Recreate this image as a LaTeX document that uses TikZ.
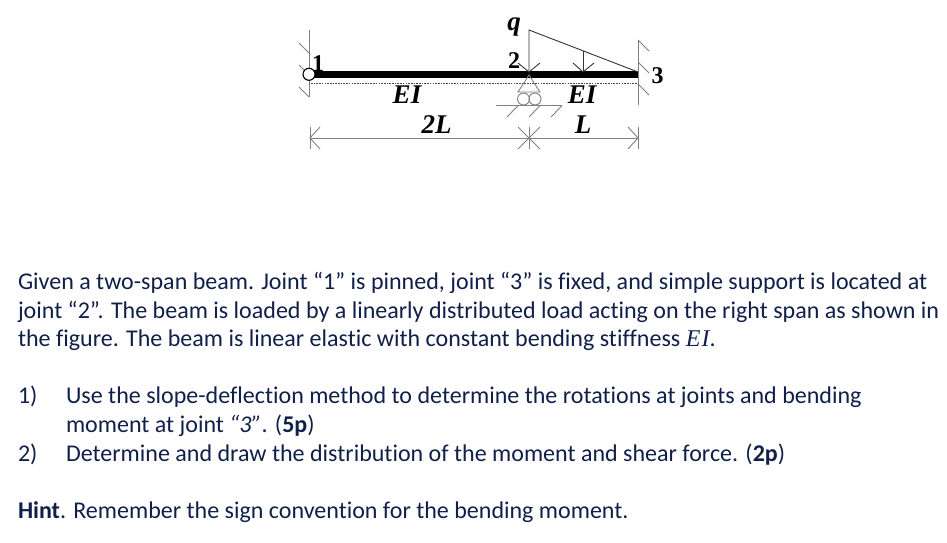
\documentclass[tikz,border=0pt]{standalone}
\usepackage{fontspec}
\setmainfont[Ligatures=NoCommon]{Carlito}
\newfontfamily\serifb{Liberation Serif}
\definecolor{ink}{HTML}{10204A}
\tikzset{
 x=1pt,y=-1pt,
 txt/.style={anchor=base west,inner sep=0pt,outer sep=0pt,text=ink,font=\fontsize{24.02}{28}\selectfont},
 lbl/.style={inner sep=0pt,font=\fontsize{27}{28}\selectfont\serifb\bfseries\itshape,text=black},
 num/.style={inner sep=0pt,font=\fontsize{24}{24}\selectfont\serifb\bfseries},
 gr/.style={draw=black!50,line width=0.9pt},
 thin1/.style={draw=black!80,line width=0.9pt},
 beam/.style={draw=black,line width=6.4pt},
 roller/.style={draw=black!50,circle,line width=0.9pt,minimum size=12pt,inner sep=0pt},
}
\begin{document}
\begin{tikzpicture}
\useasboundingbox (0,0) rectangle (947,543);
% coordinates
\coordinate (j1) at (309,74.3);
\coordinate (j3) at (639,74.3);
\coordinate (tipa) at (529,72);
\coordinate (tipb) at (583,72);
\coordinate (tipc) at (638,72);
\coordinate (d1) at (310,138);
\coordinate (d2) at (529,138);
\coordinate (d3) at (638,138);
\coordinate (qt) at (529,30);
\coordinate (qm) at (583,51);
\coordinate (ap) at (529,75);
% datum line
\draw[black!70,line width=0.6pt,dash pattern=on 1.6pt off 1.1pt] (311,83) -- (637,83);
% beam
\draw[beam] (j1) -- (j3);
% wall 1
\draw[gr] (309,30) -- (309,97);
\draw[gr] (299,43) -- (309,53);
\draw[gr] (299,65) -- (309,75);
\draw[gr] (299,87) -- (309,97);
\node[draw=black,fill=white,circle,line width=1.1pt,minimum size=12pt,inner sep=0pt] (pin) at (j1) {};
% wall 3
\draw[gr] (638,40) -- (638,105);
\draw[gr] (638,40) -- (649,51);
\draw[gr] (638,62) -- (649,73);
\draw[gr] (638,84) -- (649,95);
% load
\draw[thin1] (tipa) -- (qt) -- (tipc);
\draw[thin1] (qm) -- (tipb);
\draw[thin1] (518,63) -- (tipa) -- (540,63);
\draw[thin1] (573,63) -- (tipb) -- (594,63);
% support
\draw[gr] (ap) -- (518,92) -- (540,92) -- cycle;
\node[roller] (r1) at (523.5,99) {};
\node[roller] (r2) at (535,99) {};
\draw[gr] (496,105.7) -- (562,105.7);
\draw[gr] (507,117) -- (518,105.7);
\draw[gr] (529,117) -- (540,105.7);
\draw[gr] (551,117) -- (562,105.7);
% dimension
\draw[gr] (d1) -- (d3);
\draw[gr] (d1)+(0,-11) -- +(0,11);
\draw[gr] (d1)+(10,-11) -- (d1) -- +(10,11);
\draw[gr] (d2)+(0,-11) -- +(0,11);
\draw[gr] (d2)+(-11,-11) -- +(11,11);
\draw[gr] (d2)+(-11,11) -- +(11,-11);
\draw[gr] (d3)+(0,-11) -- +(0,11);
\draw[gr] (d3)+(-10,-11) -- (d3) -- +(-10,11);
% labels
\node[lbl,anchor=base] (q) at (514,31) {q};
\node[num,anchor=base] (n1) at (318,71) {1};
\node[num,anchor=base] (n2) at (514,69) {2};
\node[num,anchor=base] (n3) at (657.5,83) {3};
\node[lbl,anchor=base] (ei1) at (407,103.5) {EI};
\node[lbl,anchor=base] (ei2) at (582,103.5) {EI};
\node[lbl,anchor=base] (l1) at (436.5,133) {2L};
\node[lbl,anchor=base] (l2) at (583,133) {L};
% text
\node[txt] (t1) at (18,289) {Given a two-span beam. Joint “1” is pinned, joint “3” is fixed, and simple support is located at};
\node[txt] (t2) at (18,318) {joint “2”. The beam is loaded by a linearly distributed load acting on the right span as shown in};
\node[txt] (t3) at (18,346) {the figure. The beam is linear elastic with constant bending stiffness {\serifb\itshape E\kern1pt I}.};
\node[txt] (a1) at (18,403) {1)};
\node[txt] (a2) at (66,403) {Use the slope-deflection method to determine the rotations at joints and bending};
\node[txt] (a3) at (66,432) {moment at joint \textit{“3”}. (\textbf{5p})};
\node[txt] (b1) at (18,461) {2)};
\node[txt] (b2) at (66,461) {Determine and draw the distribution of the moment and shear force. (\textbf{2p})};
\node[txt] (h) at (18,518) {\textbf{Hint}. Remember the sign convention for the bending moment.};
\end{tikzpicture}
\end{document}
